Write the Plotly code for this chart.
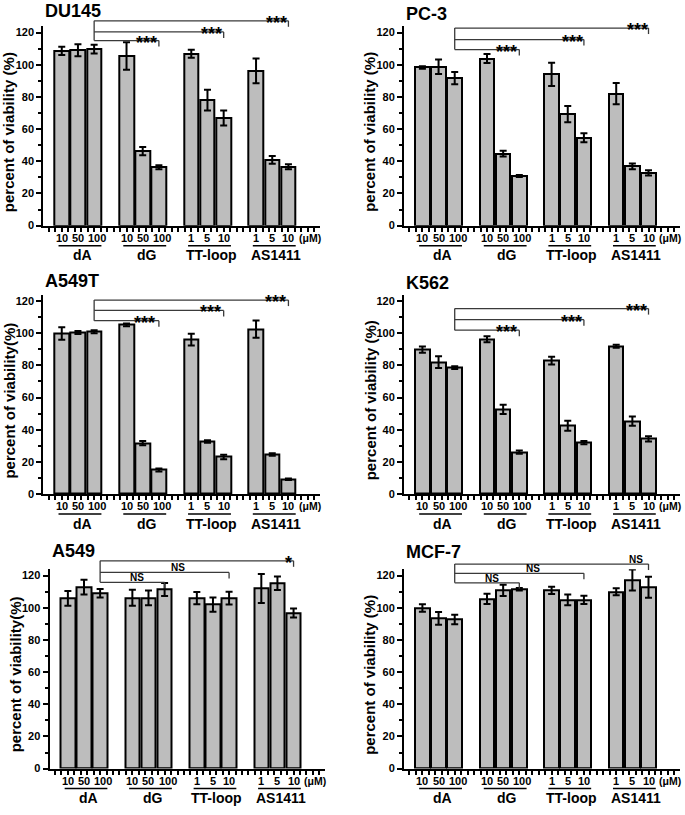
import plotly.graph_objects as go

# ---------------- data ----------------
panel_names = ["DU145", "PC-3", "A549T", "K562", "A549", "MCF-7"]
y_titles = ["percent of viability (%)", "percent of viability (%)",
            "percent of viability(%)", "percent of viability (%)",
            "percent of viability(%)", "percent of viability (%)"]
groups = ["dA", "dG", "TT-loop", "AS1411"]
dose_labels = [["10", "50", "100"], ["10", "50", "100"], ["1", "5", "10"], ["1", "5", "10"]]
unit_label = "(μM)"

du145_mean = [108.6, 109.0, 109.7, 105.4, 46.3, 36.3, 106.8, 78.0, 66.9, 96.2, 40.9, 36.6]
du145_err = [2.6, 3.8, 2.7, 8.5, 2.6, 1.2, 2.5, 6.5, 4.6, 7.7, 2.4, 1.5]
pc3_mean = [98.3, 98.8, 91.7, 103.8, 44.7, 30.8, 94.0, 69.3, 54.6, 82.0, 36.8, 32.8]
pc3_err = [0.8, 4.5, 3.8, 2.8, 1.8, 0.6, 7.2, 5.0, 2.8, 6.6, 1.8, 1.6]
a549t_mean = [99.8, 100.4, 100.9, 105.2, 31.6, 14.9, 96.0, 32.7, 23.0, 102.5, 24.6, 9.2]
a549t_err = [3.9, 0.9, 0.9, 0.9, 1.3, 0.9, 3.6, 0.8, 1.4, 5.4, 0.8, 0.4]
k562_mean = [89.8, 82.0, 78.6, 96.2, 52.6, 26.0, 83.0, 42.5, 32.0, 91.9, 45.3, 34.3]
k562_err = [1.9, 3.6, 0.9, 1.9, 2.9, 1.0, 2.4, 3.1, 1.0, 0.9, 2.9, 1.7]
a549_mean = [105.8, 112.8, 109.0, 106.2, 106.2, 111.4, 106.0, 102.0, 106.0, 112.0, 115.2, 96.8]
a549_err = [4.6, 4.6, 2.6, 5.0, 4.6, 4.0, 3.8, 4.4, 4.0, 9.0, 4.2, 2.8]
mcf7_mean = [99.9, 93.4, 92.7, 105.5, 110.8, 111.5, 110.8, 104.9, 104.9, 110.0, 117.3, 112.8]
mcf7_err = [2.3, 4.0, 3.0, 3.2, 3.5, 0.8, 2.2, 3.4, 2.6, 2.2, 6.5, 6.5]

means = [du145_mean, pc3_mean, a549t_mean, k562_mean, a549_mean, mcf7_mean]
errs = [du145_err, pc3_err, a549t_err, k562_err, a549_err, mcf7_err]

# significance: dA 100 vs dG 100 / TT-loop 10 / AS1411 10
sig_labels = [["***", "***", "***"], ["***", "***", "***"], ["***", "***", "***"],
              ["***", "***", "***"], ["NS", "NS", "*"], ["NS", "NS", "NS"]]
sig_levels = [[115.0, 120.4, 127.3], [109.4, 115.6, 122.8], [107.8, 114.2, 120.6],
              [101.9, 108.4, 115.3], [115.8, 122.0, 129.2], [115.5, 121.4, 127.2]]
sig_label_x = [[6.24, 10.25, 14.27], [6.2, 10.27, 14.3], [6.14, 10.16, 14.2],
               [6.2, 10.25, 14.27], [5.26, 7.83, 14.67], [5.28, 7.83, 14.24]]

# ---------------- layout constants ----------------
FIG_W, FIG_H = 685, 815
XMIN, XMAX = -0.14, 16.95
YMAX = 124
FONT = "Liberation Sans, Arial, sans-serif"
BAR_FILL = "#bdbdbd"

# plot-area edges in page pixels
x_px = [[43.3, 320], [404, 680], [43.3, 320], [404, 680], [49.5, 325], [404, 680]]
row_px = [[227.3, 26.3], [497.7, 296.8], [774.3, 573.4]]   # (bottom, top)
title_shift = [15, 12, 13.5, 12, 18.5, 17.5]


def xdom(px):
    return [px[0] / FIG_W, px[1] / FIG_W]


def ydom(px):
    return [1 - px[0] / FIG_H, 1 - px[1] / FIG_H]


positions = []
for g in range(len(groups)):
    for d in range(3):
        positions.append(g * 4 + d + 1)

fig = go.Figure()
annotations = []
shapes = []

for i, name in enumerate(panel_names):
    n = i + 1
    xa = "x" if n == 1 else f"x{n}"
    ya = "y" if n == 1 else f"y{n}"
    row = i // 2
    axw = x_px[i][1] - x_px[i][0]

    fig.add_trace(go.Bar(
        x=positions, y=means[i], width=0.9,
        xaxis=xa, yaxis=ya,
        marker=dict(color=BAR_FILL, line=dict(color="black", width=2)),
        error_y=dict(type="data", array=errs[i], color="black", thickness=2, width=3.5),
        showlegend=False,
    ))

    fig.layout[f"xaxis{n if n > 1 else ''}"] = dict(
        domain=xdom(x_px[i]), anchor=ya, range=[XMIN, XMAX],
        showline=True, linecolor="black", linewidth=2,
        ticks="outside", ticklen=4, tickwidth=1.5, tickcolor="black",
        tick0=0.2, dtick=0.4, showticklabels=False,
        showgrid=False, zeroline=False,
    )
    fig.layout[f"yaxis{n if n > 1 else ''}"] = dict(
        domain=ydom(row_px[row]), anchor=xa, range=[0, YMAX],
        showline=True, linecolor="black", linewidth=2,
        ticks="outside", ticklen=5, tickwidth=1.5, tickcolor="black",
        tick0=0, dtick=20,
        tickfont=dict(family=FONT, size=11, color="black", weight="bold"),
        minor=dict(dtick=10, ticks="outside", ticklen=3, tickwidth=1.5, tickcolor="black"),
        showgrid=False, zeroline=False,
    )

    # panel title
    annotations.append(dict(
        text=name, xref=f"{xa} domain", yref=f"{ya} domain", x=0, y=1,
        xanchor="left", yanchor="middle", yshift=title_shift[i], showarrow=False,
        font=dict(family=FONT, size=18, color="black", weight="bold")))
    # y title
    annotations.append(dict(
        text=y_titles[i], textangle=-90, xref=f"{xa} domain", yref=f"{ya} domain",
        x=-34 / axw, y=0.47, xanchor="center", yanchor="middle", showarrow=False,
        font=dict(family=FONT, size=15, color="black", weight="bold")))

    # dose labels, underlines and group names
    for g, gname in enumerate(groups):
        gpos = positions[g * 3:(g + 1) * 3]
        for d, lab in enumerate(dose_labels[g]):
            annotations.append(dict(
                text=lab, xref=xa, yref=f"{ya} domain", x=gpos[d], y=0,
                xanchor="center", yanchor="middle", yshift=-12,
                xshift=3 if len(lab) == 3 else 0, showarrow=False,
                font=dict(family=FONT, size=11, color="black", weight="bold")))
        shapes.append(dict(
            type="line", xref=xa, yref=f"{ya} domain", x0=gpos[0] - 0.2, x1=gpos[-1] + 0.45,
            ysizemode="pixel", yanchor=0, y0=-20, y1=-20,
            line=dict(color="black", width=1.5)))
        annotations.append(dict(
            text=gname, xref=xa, yref=f"{ya} domain", x=gpos[1] + 0.25, y=0,
            xanchor="center", yanchor="middle", yshift=-29.5, showarrow=False,
            font=dict(family=FONT, size=14, color="black", weight="bold")))
    annotations.append(dict(
        text=unit_label, xref=xa, yref=f"{ya} domain", x=15.5, y=0,
        xanchor="left", yanchor="middle", yshift=-12, showarrow=False,
        font=dict(family=FONT, size=10.5, color="black", weight="bold")))

    # significance brackets
    start = positions[2]
    ends = [positions[5], positions[8], positions[11]]
    levels = sig_levels[i]
    bcol = "#3a3a3a"
    shapes.append(dict(type="line", xref=xa, yref=f"{ya} domain",
                       x0=start, x1=start, y0=min(levels) / YMAX, y1=max(levels) / YMAX,
                       line=dict(color=bcol, width=1.3)))
    for k in range(3):
        lv = levels[k] / YMAX
        shapes.append(dict(type="line", xref=xa, yref=f"{ya} domain",
                           x0=start, x1=ends[k], y0=lv, y1=lv,
                           line=dict(color=bcol, width=1.3)))
        shapes.append(dict(type="line", xref=xa, yref=f"{ya} domain",
                           x0=ends[k], x1=ends[k], ysizemode="pixel", yanchor=lv,
                           y0=0, y1=-6, line=dict(color=bcol, width=1.3)))
        lab = sig_labels[i][k]
        is_ns = lab == "NS"
        annotations.append(dict(
            text=lab, xref=xa, yref=f"{ya} domain", x=sig_label_x[i][k], y=lv,
            xanchor="center", yanchor="middle", yshift=4.5 if is_ns else -2,
            showarrow=False,
            font=dict(family=FONT, size=10 if is_ns else 18, color="black", weight="bold")))

fig.update_layout(
    width=FIG_W, height=FIG_H, margin=dict(l=0, r=0, t=0, b=0),
    paper_bgcolor="white", plot_bgcolor="white",
    annotations=annotations, shapes=shapes, bargap=0,
    font=dict(family=FONT, color="black"),
)

# remove the browser's default 8px body margin so the figure fills the window
fig.write_html("out.html", config={"displayModeBar": False},
               post_script="document.body.style.margin='0';")
